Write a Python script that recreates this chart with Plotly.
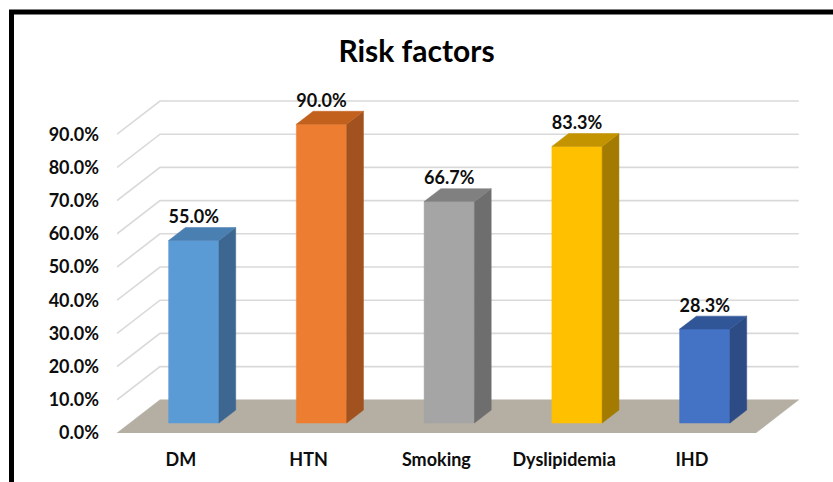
import plotly.graph_objects as go

# Risk factor prevalence (%)
categories = ["DM", "HTN", "Smoking", "Dyslipidemia", "IHD"]
values = [55.0, 90.0, 66.7, 83.3, 28.3]
y_ticks = [0, 10, 20, 30, 40, 50, 60, 70, 80, 90]

front_colors = ["#5B9BD5", "#ED7D31", "#A5A5A5", "#FFC000", "#4472C4"]
side_colors = ["#3D6790", "#A1521E", "#6E6E6E", "#A37B00", "#2D4C85"]
top_colors = ["#4A7FB2", "#C2601E", "#808080", "#C49400", "#305698"]

# pseudo-3D projection: depth shifts a point right (x units) and up (% units)
DEPTH_X = 0.3366
DEPTH_Y = 10.0
BAR_D0 = 0.30      # bar front position as a fraction of the floor depth
BAR_DT = 0.39      # bar thickness as a fraction of the floor depth
HALF_W = 0.197

n = len(categories)
fig = go.Figure()


def poly(xs, ys, color, line_color=None):
    fig.add_trace(go.Scatter(
        x=xs + [xs[0]], y=ys + [ys[0]], mode="lines", fill="toself",
        fillcolor=color, line=dict(color=line_color or color, width=0.5),
        hoverinfo="skip", showlegend=False))


# side-wall and back-wall gridlines
for v in y_ticks[1:]:
    fig.add_trace(go.Scatter(
        x=[-0.5, -0.5 + DEPTH_X, n - 0.5 + DEPTH_X],
        y=[v, v + DEPTH_Y, v + DEPTH_Y],
        mode="lines", line=dict(color="#D9D9D9", width=1.6),
        hoverinfo="skip", showlegend=False))

# floor
poly([-0.5, n - 0.5, n - 0.5 + DEPTH_X, -0.5 + DEPTH_X],
     [0, 0, DEPTH_Y, DEPTH_Y], "#B5AFA3")

# bars
bx = BAR_D0 * DEPTH_X
by = BAR_D0 * DEPTH_Y
tx = BAR_DT * DEPTH_X
ty = BAR_DT * DEPTH_Y
for i, v in enumerate(values):
    xl = i + bx - HALF_W
    xr = i + bx + HALF_W
    y0 = by
    y1 = by + v
    # front face
    poly([xl, xr, xr, xl], [y0, y0, y1, y1], front_colors[i])
    # side face
    poly([xr, xr + tx, xr + tx, xr], [y0, y0 + ty, y1 + ty, y1], side_colors[i])
    # top face
    poly([xl, xr, xr + tx, xl + tx], [y1, y1, y1 + ty, y1 + ty], top_colors[i])

# value labels
fig.add_trace(go.Scatter(
    x=[i + bx for i in range(n)],
    y=[by + v + ty for v in values],
    mode="text", text=[f"{v:.1f}%" for v in values],
    textposition="top center",
    textfont=dict(family="Lato", size=18, color="#0D0D0D", weight="bold"),
    hoverinfo="skip", showlegend=False))

W, H = 833, 482
ML, MB = 117, 49
PW, PH = W - ML, H - MB


def px_x(p):
    return (p - ML) / PW


def px_y(p):
    return (H - MB - p) / PH


# outer frame
fig.add_shape(type="rect", xref="paper", yref="paper",
              x0=px_x(11.5), x1=px_x(845), y0=px_y(12), y1=px_y(495),
              line=dict(color="black", width=5), fillcolor="rgba(0,0,0,0)",
              layer="above")

fig.update_layout(
    width=W, height=H,
    margin=dict(l=ML, r=0, t=0, b=MB),
    paper_bgcolor="white", plot_bgcolor="white",
    title=dict(text="<b>Risk factors</b>", x=0.5, xanchor="center",
               xref="container", y=1 - 51 / H, yanchor="middle",
               font=dict(family="Lato", size=30, color="black")),
    xaxis=dict(range=[-0.5, -0.5 + PW / 127.75], tickvals=list(range(n)),
               ticktext=[f"<b>{c}</b>" for c in categories],
               showgrid=False, zeroline=False, showline=False, ticks="",
               ticklabelstandoff=14,
               tickfont=dict(family="Lato", size=18, color="#0D0D0D")),
    yaxis=dict(range=[0, PH / 3.32], tickvals=y_ticks,
               ticktext=[f"<b>{v:.1f}%</b>" for v in y_ticks],
               showgrid=False, zeroline=False, showline=False, ticks="",
               ticklabelstandoff=17,
               tickfont=dict(family="Lato", size=18, color="#0D0D0D")),
    showlegend=False,
)

fig.write_html("out.html")
